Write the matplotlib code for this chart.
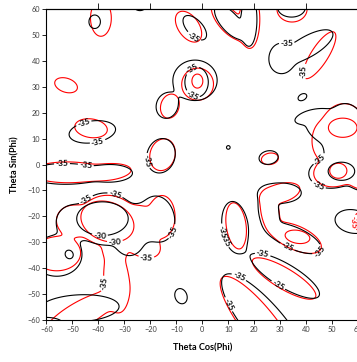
import numpy as np
import matplotlib.pyplot as plt

plt.rcParams['font.family'] = ['Lato', 'DejaVu Sans']
plt.rcParams['contour.negative_linestyle'] = 'solid'

# lobes: centre, half axes of the -35 line, tilt (deg)
# black pattern, -35 lobes
blk_x = [-41.4, -24.0, -2.9, -2.8, -13.6, -42.3, -15.9, -53.0, -35.0,
         -37.0, -17.0, -56.0, -50.0, -28.0, -47.5, -8.2, 10.0, 25.5,
         18.0, 10.5, 34.3, 30.5, 40.5, 38.5, 55.0, 49.0, 42.0, 62.0,
         30.0, 25.5, 35.5, 58.0, 12.6, 32.0, 24.5, -24.0, 45.0]
blk_y = [55.1, 61.0, 52.8, 32.5, 22.7, 12.6, 3.4, -3.6, -3.3,
         -21.0, -21.0, -35.3, -22.0, -29.5, -55.5, -50.8, 6.6, 2.7,
         56.0, 55.0, 60.5, 41.0, 45.5, 26.0, 10.0, -3.5, 18.5, -4.0,
         -11.0, -18.0, -28.5, -22.0, -24.0, -43.0, -62.0, -23.0, 13.5]
blk_rx = [2.2, 2.2, 5.8, 8.5, 4.1, 9.0, 5.4, 14.0, 8.0,
          11.0, 6.3, 9.5, 6.0, 5.0, 15.5, 2.3, 0.7, 3.7,
          3.0, 8.0, 5.3, 4.8, 11.0, 1.8, 8.5, 8.0, 6.5, 6.0,
          8.0, 3.8, 11.0, 7.0, 5.0, 15.0, 25.0, 6.0, 5.8]
blk_ry = [2.6, 1.6, 3.0, 7.8, 4.9, 4.2, 6.7, 4.0, 3.2,
          10.0, 8.8, 7.8, 6.0, 5.5, 5.2, 3.0, 0.7, 2.6,
          10.0, 3.5, 3.6, 5.8, 4.0, 1.2, 13.5, 5.5, 2.5, 6.0,
          3.9, 7.5, 4.2, 4.5, 9.8, 4.5, 7.5, 6.5, 3.6]
blk_ang = [0, 0, -47, 0, -15, 8, -15, 0, 0,
           0, 10, 0, 0, 0, 3, 20, 0, 10,
           0, -50, 0, 0, 30, 30, 0, 0, 15, 0,
           0, 10, -24, -10, 8, -31, -50, 0, -40]
# black holes (the field falls back under -35 inside them)
blk_hx = [-2.2, -51.2, 53.5, -60.0]
blk_hy = [31.8, -34.7, -2.6, -61.5]
blk_hrx = [4.5, 1.5, 5.1, 6.5]
blk_hry = [5.8, 1.7, 3.5, 2.5]
blk_hang = [0, 30, 0, 0]
# black -30 core
blk30_x = [-38.4]
blk30_y = [-20.9]
blk30_rx = [9.9]
blk30_ry = [6.5]
blk30_ang = [0]

# red pattern, -35 lobes
red_x = [-39.0, -52.4, -5.3, -1.8, -12.5, -42.8, -15.3, -52.0, -36.0,
         -36.5, -15.5, -23.0, -56.0, -50.0, -33.0, -47.0, 26.0, 18.3,
         10.0, 34.5, 45.1, 54.5, 50.0, 62.0, 30.2, 26.0, 36.0, 62.0,
         13.0, 31.5, 22.5, -24.0, -33.5, 46.0]
red_y = [56.5, 30.6, 53.2, 31.0, 22.5, 14.0, 3.8, -3.0, -2.8,
         -21.5, -20.0, -31.0, -34.5, -21.5, -45.0, -58.0, 2.2, 56.0,
         55.5, 60.0, 42.2, 11.0, -3.5, -4.0, -11.0, -18.0, -28.3, -22.0,
         -23.5, -44.0, -62.5, -23.0, -33.0, 9.0]
red_rx = [4.0, 4.5, 6.7, 6.1, 3.5, 6.3, 4.8, 14.0, 8.5,
          10.8, 5.0, 7.0, 9.0, 6.0, 4.8, 16.0, 3.3, 3.8,
          9.0, 5.8, 10.5, 9.5, 7.0, 6.0, 7.5, 3.4, 10.5, 4.0,
          3.8, 14.0, 24.0, 6.0, 4.0, 3.5]
red_ry = [7.0, 2.7, 4.0, 6.2, 4.7, 3.6, 6.2, 4.0, 3.0,
          9.6, 8.0, 4.5, 6.5, 5.5, 12.0, 5.0, 2.2, 10.8,
          4.0, 5.0, 3.3, 12.5, 5.0, 5.5, 3.6, 7.0, 4.6, 4.0,
          8.8, 4.0, 6.5, 6.5, 4.0, 6.0]
red_ang = [0, -18, -55, 0, -15, -8, -15, 0, 5,
           0, 0, -25, 0, 0, 5, 30, 10, 0,
           -50, 0, 57.7, 0, 0, 0, 15, 10, -24, 0,
           8, -31, -52, 0, 0, 0]
red_hx = [-1.9, 54.0, 52.3, 36.6]
red_hy = [32.2, 14.2, -2.4, -27.9]
red_hrx = [2.1, 5.5, 3.3, 4.8]
red_hry = [2.7, 3.7, 2.9, 2.5]
red_hang = [0, 0, 0, -10]
red30_x = [-36.5]
red30_y = [-22.0]
red30_rx = [10.5]
red30_ry = [7.5]
red30_ang = [-20]


def rho(X, Y, cx, cy, rx, ry, ang):
    a = np.radians(ang)
    u = (X - cx) * np.cos(a) + (Y - cy) * np.sin(a)
    v = -(X - cx) * np.sin(a) + (Y - cy) * np.cos(a)
    return np.sqrt((u / rx) ** 2 + (v / ry) ** 2)


def field(X, Y, level, xs, ys, rxs, rys, angs, holes=None, p=4.0):
    s = np.array([1 - rho(X, Y, *f) for f in zip(xs, ys, rxs, rys, angs)])
    m = s.max(axis=0)
    L = m + np.log(np.exp(p * (s - m)).sum(axis=0)) / p
    if holes:
        for h in zip(*holes):
            L = np.minimum(L, rho(X, Y, *h) - 1)
    return level + 4 * np.tanh(2 * L)


gx = np.linspace(-64, 64, 700)
X, Y = np.meshgrid(gx, gx)

fb = field(X, Y, -35, blk_x, blk_y, blk_rx, blk_ry, blk_ang,
           (blk_hx, blk_hy, blk_hrx, blk_hry, blk_hang))
fb30 = field(X, Y, -30, blk30_x, blk30_y, blk30_rx, blk30_ry, blk30_ang)
fr = field(X, Y, -35, red_x, red_y, red_rx, red_ry, red_ang,
           (red_hx, red_hy, red_hrx, red_hry, red_hang))
fr30 = field(X, Y, -30, red30_x, red30_y, red30_rx, red30_ry, red30_ang)

fig = plt.figure(figsize=(3.57, 3.62), dpi=100)
ax = fig.add_axes([0.1297, 0.116, 0.874, 0.859])

cr = ax.contour(X, Y, fr, levels=[-35], colors='#ff0000', linewidths=0.8)
cr30 = ax.contour(X, Y, fr30, levels=[-30], colors='#ff0000', linewidths=0.8)
cb = ax.contour(X, Y, fb, levels=[-35], colors='black', linewidths=0.8)
cb30 = ax.contour(X, Y, fb30, levels=[-30], colors='black', linewidths=0.8)

lab_kw = dict(fmt='%d', fontsize=6, colors='black', inline=True, inline_spacing=1)
txt = []
txt += ax.clabel(cb, manual=[(-45, 14), (-40.6, 10.4), (-19.5, 1.7), (-54, 1.7),
                             (-44.7, 0.8), (-4.1, 48), (-4.7, 38), (-4.1, 26.1),
                             (32.5, 46.7), (45.4, 1.7), (45.4, -6.3), (33, -31.2),
                             (45.3, -33.7), (22.8, -36.9), (29.2, -46.6),
                             (13.8, -44), (10.7, -53.7), (9.4, -25.5), (9.4, -29),
                             (-45.1, -13.1), (-33.6, -11.9), (-14.3, -24.7)],
                 **lab_kw)
txt += ax.clabel(cr, manual=[(39.5, 35.8), (-40, -45.9), (-21.4, -34.5), (58.3, -22.2)],
                 **lab_kw)
txt[-1].set_color('#ff0000')
txt += ax.clabel(cb30, manual=[(-39.3, -26)], **lab_kw)
txt += ax.clabel(cr30, manual=[(-33.6, -29.9)], **lab_kw)
for t in txt:
    t.set_fontweight('bold')

ax.set_xlim(-60, 60)
ax.set_ylim(-60, 60)
ax.set_xticks(range(-60, 61, 10))
ax.set_yticks(range(-60, 61, 10))
ax.tick_params(direction='out', length=3, width=0.6, labelsize=5.3,
               labelcolor='#404040', pad=1.5)
for sp in ax.spines.values():
    sp.set_linewidth(0.8)

top = ax.secondary_xaxis('top')
top.set_xticks([-40, -20, 0, 20, 40])
top.set_xticklabels([])
top.tick_params(direction='out', length=4, width=0.6)

ax.set_xlabel('Theta Cos(Phi)', fontsize=6.6, fontweight='bold')
ax.set_ylabel('Theta Sin(Phi)', fontsize=6.6, fontweight='bold')
ax.xaxis.set_label_coords(0.5, -0.075)
ax.yaxis.set_label_coords(-0.085, 0.5)

fig.savefig('out.png', dpi=100)
